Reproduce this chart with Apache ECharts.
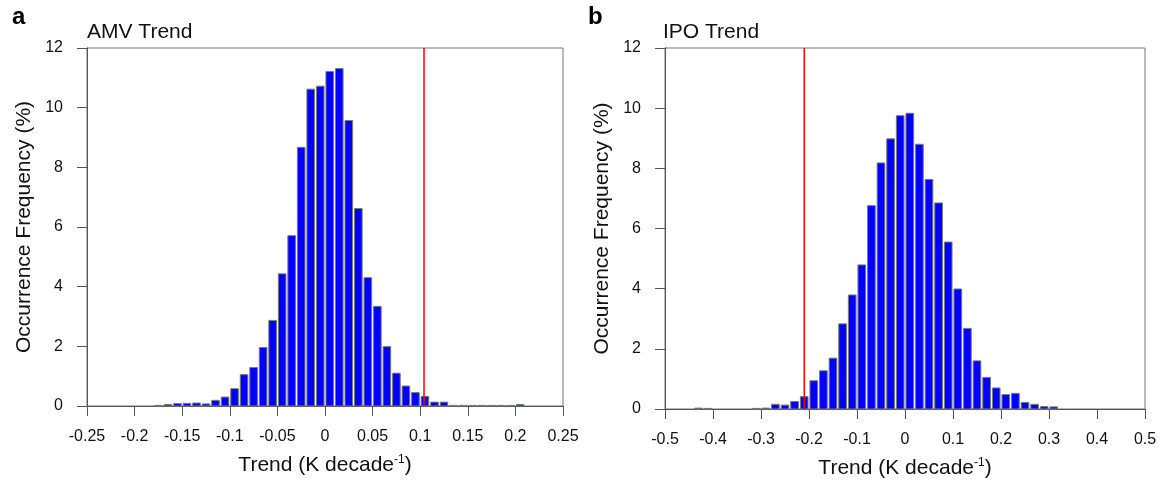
<!DOCTYPE html>
<html><head><meta charset="utf-8">
<script src="https://cdn.jsdelivr.net/npm/echarts@6/dist/echarts.min.js"></script>
<style>html,body{margin:0;padding:0;background:#fff}#c{width:1167px;height:483px}</style>
</head><body><div id="c"></div>
<script>
// ---- data ----
const amvBinWidth = 0.01;
const amvBins = [-0.175,-0.165,-0.155,-0.145,-0.135,-0.125,-0.115,-0.105,-0.095,-0.085,-0.075,-0.065,-0.055,-0.045,-0.035,-0.025,-0.015,-0.005,0.005,0.015,0.025,0.035,0.045,0.055,0.065,0.075,0.085,0.095,0.105,0.115,0.125,0.135,0.145,0.155,0.165,0.175,0.185,0.195,0.205];
const amvFreq = [0.02,0.05,0.08,0.09,0.10,0.07,0.19,0.30,0.58,1.05,1.29,1.96,2.87,4.43,5.71,8.67,10.62,10.72,11.21,11.31,9.57,6.62,4.30,3.34,1.99,1.10,0.67,0.45,0.32,0.13,0.13,0.02,0.02,0.02,0.02,0.02,0.02,0.02,0.05];
const amvObserved = 0.104;

const ipoBinWidth = 0.02;
const ipoBins = [-0.43,-0.41,-0.31,-0.29,-0.27,-0.25,-0.23,-0.21,-0.19,-0.17,-0.15,-0.13,-0.11,-0.09,-0.07,-0.05,-0.03,-0.01,0.01,0.03,0.05,0.07,0.09,0.11,0.13,0.15,0.17,0.19,0.21,0.23,0.25,0.27,0.29,0.31];
const ipoFreq = [0.03,0.02,0.02,0.03,0.155,0.13,0.25,0.41,0.94,1.27,1.69,2.83,3.79,4.79,6.76,8.18,8.98,9.75,9.83,8.80,7.63,6.85,5.55,3.99,2.68,1.60,1.05,0.70,0.48,0.52,0.22,0.155,0.08,0.07];
const ipoObserved = -0.21;

const panelLetters = ['a', 'b'];
const panelTitles = ['AMV Trend', 'IPO Trend'];
const xName = 'Trend (K decade{s|-1})';
const yName = 'Occurrence Frequency (%)';

// ---- chart ----
const FONT = '"Liberation Sans", Arial, Helvetica, sans-serif';
const chart = echarts.init(document.getElementById('c'), null, {renderer: 'canvas'});

function barRender(bw) {
  return function (params, api) {
    const x = api.value(0), y = api.value(1);
    const p0 = api.coord([x - bw / 2, y]);
    const p1 = api.coord([x + bw / 2, 0]);
    const w = p1[0] - p0[0];
    const s = w * 0.1;
    return {
      type: 'rect',
      shape: {x: p0[0] + s, y: p0[1], width: w - 2 * s, height: p1[1] - p0[1]},
      style: {fill: '#0000ff', stroke: '#7a7a7a', lineWidth: 1}
    };
  };
}

function xAxisCfg(idx, min, max, interval, dec) {
  return {
    type: 'value', gridIndex: idx, min: min, max: max, interval: interval,
    axisLine: {show: true, onZero: false, lineStyle: {color: '#555', width: 1}},
    axisTick: {show: true, length: 10, lineStyle: {color: '#555', width: 1}},
    splitLine: {show: false},
    axisLabel: {fontSize: 16, color: '#111', fontFamily: FONT, margin: 23,
      formatter: v => String(+v.toFixed(dec))},
    name: xName, nameLocation: 'middle', nameGap: 48,
    nameTextStyle: {fontSize: 21, color: '#111', fontFamily: FONT,
      rich: {s: {fontSize: 12, color: '#111', fontFamily: FONT, verticalAlign: 'top', lineHeight: 23}}}
  };
}
function yAxisCfg(idx) {
  return {
    type: 'value', gridIndex: idx, min: 0, max: 12, interval: 2,
    axisLine: {show: true, onZero: false, lineStyle: {color: '#555', width: 1}},
    axisTick: {show: true, length: 10, lineStyle: {color: '#555', width: 1}},
    splitLine: {show: false},
    axisLabel: {fontSize: 16, color: '#111', fontFamily: FONT, margin: 24},
    name: yName, nameLocation: 'middle', nameGap: 52, nameRotate: 90,
    nameTextStyle: {fontSize: 21, color: '#111', fontFamily: FONT}
  };
}

const option = {
  backgroundColor: '#fff',
  animation: false,
  title: [
    {text: panelLetters[0], left: 12, top: 5, padding: 0, textStyle: {fontSize: 24, fontWeight: 'bold', color: '#000', fontFamily: FONT}},
    {text: panelTitles[0], left: 87, top: 22, padding: 0, textStyle: {fontSize: 21, fontWeight: 'normal', color: '#111', fontFamily: FONT}},
    {text: panelLetters[1], left: 588, top: 5, padding: 0, textStyle: {fontSize: 24, fontWeight: 'bold', color: '#000', fontFamily: FONT}},
    {text: panelTitles[1], left: 663, top: 22, padding: 0, textStyle: {fontSize: 21, fontWeight: 'normal', color: '#111', fontFamily: FONT}}
  ],
  grid: [
    {left: 87, top: 48, width: 476, height: 358, show: true, borderColor: '#777', borderWidth: 1, backgroundColor: 'transparent', outerBoundsMode: 'none', containLabel: false},
    {left: 665, top: 48, width: 480, height: 361, show: true, borderColor: '#777', borderWidth: 1, backgroundColor: 'transparent', outerBoundsMode: 'none', containLabel: false}
  ],
  xAxis: [xAxisCfg(0, -0.25, 0.25, 0.05, 2), xAxisCfg(1, -0.5, 0.5, 0.1, 1)],
  yAxis: [yAxisCfg(0), yAxisCfg(1)],
  series: [
    {type: 'custom', xAxisIndex: 0, yAxisIndex: 0, renderItem: barRender(amvBinWidth),
      encode: {x: 0, y: 1}, data: amvBins.map((b, i) => [b, amvFreq[i]]), silent: true, z: 2},
    {type: 'line', xAxisIndex: 0, yAxisIndex: 0, data: [[amvObserved, 0], [amvObserved, 12]],
      symbol: 'none', lineStyle: {color: '#ff0000', width: 1.5}, silent: true, z: 3},
    {type: 'custom', xAxisIndex: 1, yAxisIndex: 1, renderItem: barRender(ipoBinWidth),
      encode: {x: 0, y: 1}, data: ipoBins.map((b, i) => [b, ipoFreq[i]]), silent: true, z: 2},
    {type: 'line', xAxisIndex: 1, yAxisIndex: 1, data: [[ipoObserved, 0], [ipoObserved, 12]],
      symbol: 'none', lineStyle: {color: '#ff0000', width: 1.5}, silent: true, z: 3}
  ]
};
chart.setOption(option);
</script>
</body></html>
